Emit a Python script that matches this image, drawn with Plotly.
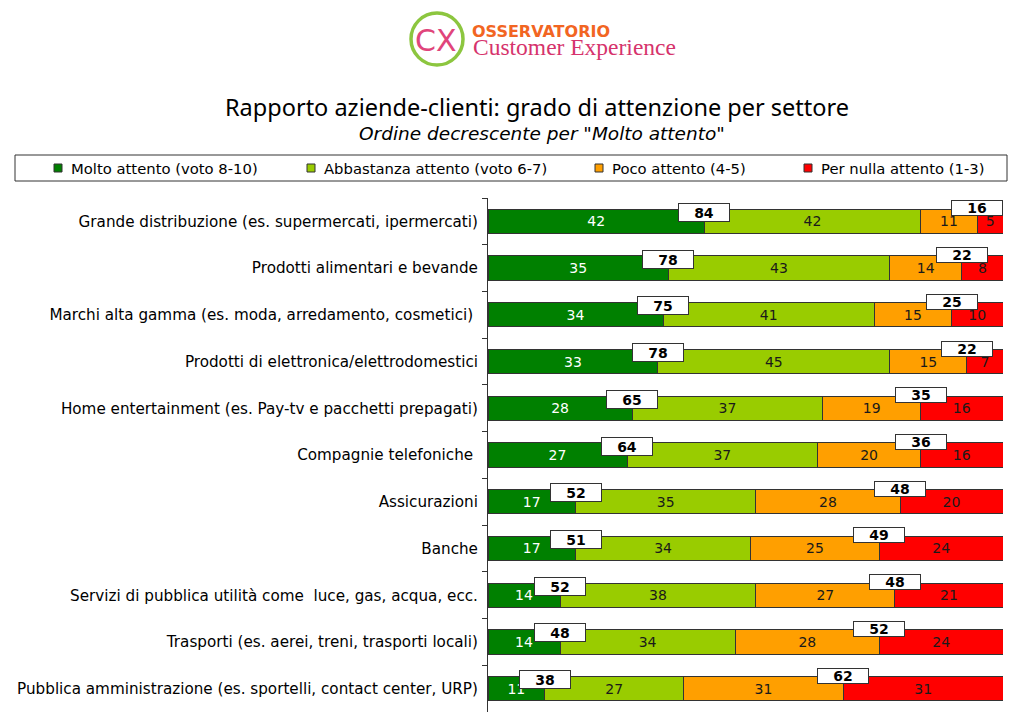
import plotly.graph_objects as go

categories = [
    "Grande distribuzione (es. supermercati, ipermercati)",
    "Prodotti alimentari e bevande",
    "Marchi alta gamma (es. moda, arredamento, cosmetici)\u00a0",
    "Prodotti di elettronica/elettrodomestici",
    "Home entertainment (es. Pay-tv e pacchetti prepagati)",
    "Compagnie telefoniche\u00a0",
    "Assicurazioni",
    "Banche",
    "Servizi di pubblica utilità come\u00a0 luce, gas, acqua, ecc.",
    "Trasporti (es. aerei, treni, trasporti locali)",
    "Pubblica amministrazione (es. sportelli, contact center, URP)",
]
molto = [42, 35, 34, 33, 28, 27, 17, 17, 14, 14, 11]
abbastanza = [42, 43, 41, 45, 37, 37, 35, 34, 38, 34, 27]
poco = [11, 14, 15, 15, 19, 20, 28, 25, 27, 28, 31]
nulla = [5, 8, 10, 7, 16, 16, 20, 24, 21, 24, 31]

series_names = ["Molto attento (voto 8-10)", "Abbastanza attento (voto 6-7)",
                "Poco attento (4-5)", "Per nulla attento (1-3)"]
colors = ["#008000", "#99CC00", "#FF9F00", "#FF0000"]
text_colors = ["white", "#1a1a1a", "#1a1a1a", "#1a1a1a"]

L, R, T, B = 488, 7, 198, 2
W, H = 1010, 714
PW, PH = W - L - R, H - T - B


def px(x):
    return (x - L) / PW


def py(y):
    return (H - B - y) / PH


fig = go.Figure()
for name, vals, col, tc in zip(series_names, [molto, abbastanza, poco, nulla], colors, text_colors):
    fig.add_trace(go.Bar(
        y=categories, x=vals, name=name, orientation="h",
        marker=dict(color=col, line=dict(color="#333333", width=1)),
        width=0.52,
        text=[str(v) for v in vals], textposition="inside",
        insidetextanchor="middle", textangle=0, constraintext="none",
        textfont=dict(family="DejaVu Sans", size=14, color=tc),
        hoverinfo="skip", showlegend=False,
    ))

annotations = []
box_font = dict(family="DejaVu Sans", size=14, color="black")
for i, cat in enumerate(categories):
    pos_sum = molto[i] + abbastanza[i]
    neg_sum = poco[i] + nulla[i]
    annotations.append(dict(
        x=molto[i], y=cat, xref="x", yref="y", text="<b>%d</b>" % pos_sum,
        xanchor="center", yanchor="middle",
        showarrow=False, yshift=9, bgcolor="white", bordercolor="#333333",
        borderwidth=1, width=48, height=15, font=box_font))
    annotations.append(dict(
        x=molto[i] + abbastanza[i] + poco[i], y=cat, xref="x", yref="y",
        text="<b>%d</b>" % neg_sum,
        xanchor="center", yanchor="middle",
        showarrow=False, yshift=13, bgcolor="white", bordercolor="#333333",
        borderwidth=1, width=48, height=12, font=box_font))


def paper_text(x, y, text, font, xanchor="center"):
    return dict(x=px(x), y=py(y), xref="paper", yref="paper", text=text,
                xanchor=xanchor, yanchor="middle", showarrow=False, font=font)


# titles
annotations.append(paper_text(537, 107, "Rapporto aziende-clienti: grado di attenzione per settore",
                              dict(family="Noto Sans", size=23.5, color="black")))
annotations.append(paper_text(542, 133, "<i>Ordine decrescente per \"Molto attento\"</i>",
                              dict(family="DejaVu Sans", size=18.5, color="black")))
# logo
annotations.append(paper_text(436, 40, "CX",
                              dict(family="DejaVu Sans", size=30, color="#E0457B")))
annotations.append(paper_text(470, 31, "<b>OSSERVATORIO</b>",
                              dict(family="DejaVu Sans", size=16, color="#F26522"), "left"))
annotations.append(paper_text(471, 47, "Customer Experience",
                              dict(family="Liberation Serif", size=23.5, color="#D6336C"), "left"))

shapes = [
    dict(type="circle", xref="paper", yref="paper", x0=px(411), x1=px(463), y0=py(65), y1=py(13),
         line=dict(color="#8CC63F", width=3.5)),
    dict(type="rect", xref="paper", yref="paper", x0=px(15), x1=px(1007), y0=py(181), y1=py(155),
         line=dict(color="#333333", width=1)),
]

# manual legend
legend_x = [58, 311, 599, 808]
for name, col, lx in zip(series_names, colors, legend_x):
    shapes.append(dict(type="rect", xref="paper", yref="paper",
                       x0=px(lx - 4), x1=px(lx + 4), y0=py(172), y1=py(164),
                       fillcolor=col, line=dict(color="#333333", width=1)))
    annotations.append(paper_text(lx + 11, 168, name,
                                  dict(family="DejaVu Sans", size=14.8, color="black"), "left"))

fig.update_layout(
    barmode="stack",
    width=W, height=H,
    margin=dict(l=L, r=R, t=T, b=B, autoexpand=False),
    paper_bgcolor="white", plot_bgcolor="white",
    xaxis=dict(range=[0, 100], visible=False, fixedrange=True),
    yaxis=dict(autorange="reversed", showline=True, linecolor="#333333", linewidth=1,
               ticks="outside", tickson="boundaries", ticklen=5, tickcolor="#333333",
               showgrid=False, tickfont=dict(family="DejaVu Sans", size=15.2, color="black"),
               ticklabelstandoff=6, automargin=False),
    showlegend=False,
    annotations=annotations,
    shapes=shapes,
    font=dict(family="DejaVu Sans"),
)

fig.write_html("out.html", config={"displayModeBar": False},
               post_script="document.body.style.margin='0';document.body.style.overflow='hidden';")
